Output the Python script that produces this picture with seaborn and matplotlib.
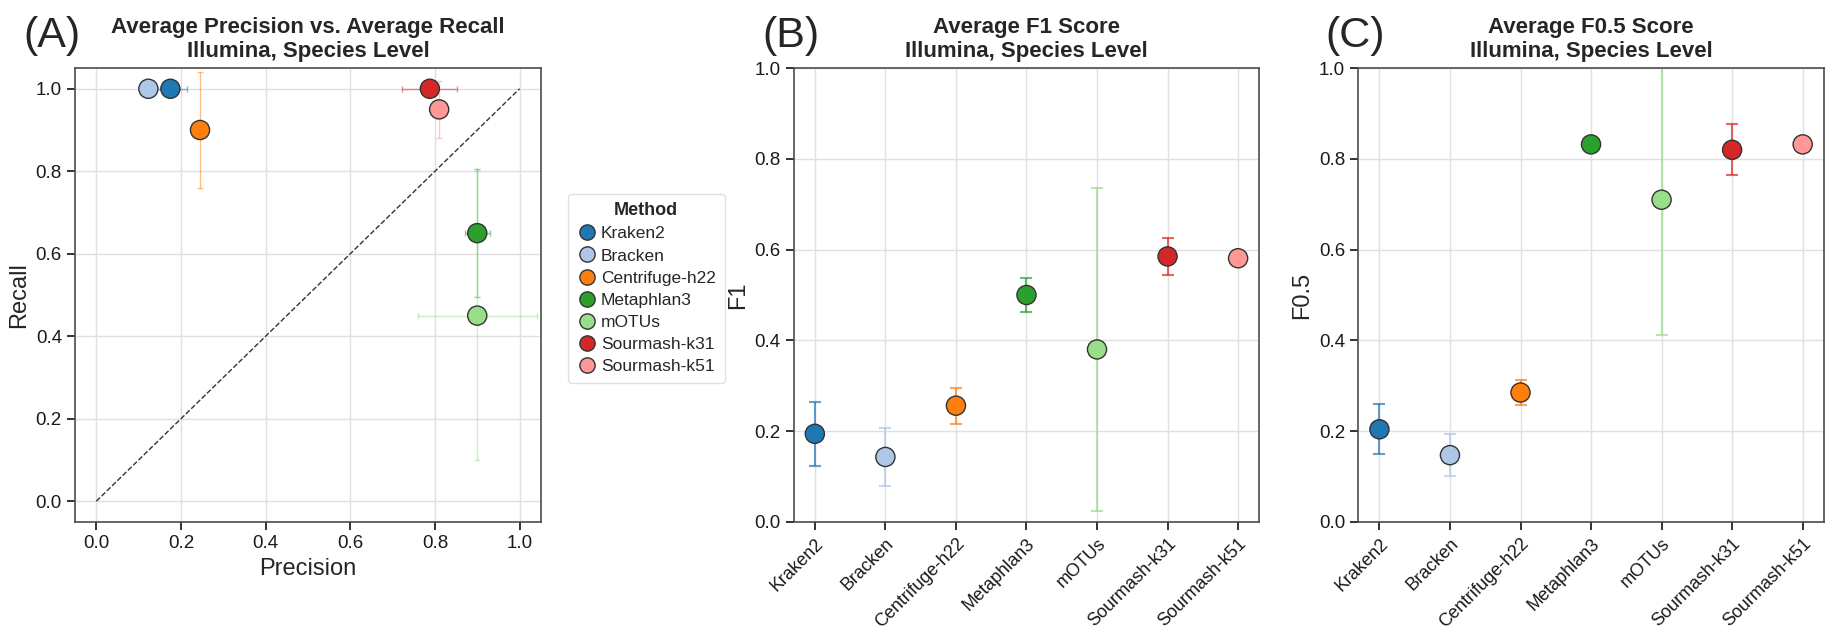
import numpy as np
import pandas as pd
import matplotlib
matplotlib.use("Agg")
import matplotlib.pyplot as plt
from matplotlib.lines import Line2D
import seaborn as sns

# values
methods = ["Kraken2", "Bracken", "Centrifuge-h22", "Metaphlan3", "mOTUs",
           "Sourmash-k31", "Sourmash-k51"]
precision = [0.175, 0.123, 0.245, 0.90, 0.90, 0.788, 0.81]
precision_err = [0.04, 0.02, 0.01, 0.03, 0.14, 0.065, 0.01]
recall = [1.0, 1.0, 0.90, 0.65, 0.45, 1.0, 0.95]
recall_err = [0.0, 0.0, 0.14, 0.155, 0.35, 0.0, 0.07]
f1 = [0.194, 0.143, 0.256, 0.50, 0.38, 0.585, 0.581]
f1_err = [0.07, 0.063, 0.04, 0.037, 0.356, 0.041, 0.01]
f05 = [0.204, 0.147, 0.285, 0.832, 0.71, 0.82, 0.832]
f05_err = [0.055, 0.047, 0.027, 0.01, 0.298, 0.056, 0.01]

df = pd.DataFrame({"Method": methods, "Precision": precision, "Recall": recall,
                   "F1": f1, "F0.5": f05})

tab20 = sns.color_palette("tab20")
colors = [tab20[i] for i in [0, 1, 2, 4, 5, 6, 7]]
pal = dict(zip(methods, colors))

sns.set_theme(style="whitegrid", rc={
    "axes.edgecolor": "0.3",
    "axes.linewidth": 1.2,
    "grid.color": "0.88",
    "xtick.bottom": True,
    "ytick.left": True,
    "xtick.color": "0.1",
    "ytick.color": "0.1",
})
plt.rcParams["font.family"] = ["Liberation Sans", "DejaVu Sans"]

fig = plt.figure(figsize=(18.33, 6.31), dpi=100)
ax1 = fig.add_axes([0.041, 0.173, 0.254, 0.719])
ax2 = fig.add_axes([0.433, 0.173, 0.254, 0.719])
ax3 = fig.add_axes([0.741, 0.173, 0.254, 0.719])

# (A) precision vs recall
for i, m in enumerate(methods):
    ax1.errorbar(precision[i], recall[i], xerr=precision_err[i], yerr=recall_err[i],
                 fmt="none", ecolor=colors[i], elinewidth=1, capsize=2, alpha=0.5)
ax1.plot([0, 1], [0, 1], ls="--", color="0.2", lw=1)
sns.scatterplot(data=df, x="Precision", y="Recall", hue="Method", palette=pal,
                s=190, edgecolor="0.2", linewidth=1, ax=ax1, zorder=3, legend=False)
ax1.set_xlim(-0.05, 1.05)
ax1.set_ylim(-0.05, 1.05)
ax1.set_xticks(np.arange(0, 1.01, 0.2))
ax1.set_yticks(np.arange(0, 1.01, 0.2))
ax1.set_xlabel("Precision", fontsize=17)
ax1.set_ylabel("Recall", fontsize=17)
ax1.tick_params(labelsize=13.5)
ax1.set_title("Average Precision vs. Average Recall\nIllumina, Species Level",
              fontsize=16, fontweight="bold", pad=8)

handles = [Line2D([], [], marker="o", ls="", markersize=11, markerfacecolor=c,
                  markeredgecolor="0.2", markeredgewidth=1) for c in colors]
leg = ax1.legend(handles, methods, title="Method", loc="center left",
                 bbox_to_anchor=(1.04, 0.515), fontsize=12.5, title_fontsize=13,
                 handletextpad=0.2, borderpad=0.5, labelspacing=0.4,
                 handlelength=1.2, frameon=True)
leg.get_title().set_fontweight("bold")
leg.get_frame().set_edgecolor("0.85")

# (B) and (C) per-method scores
for ax, col, vals, errs, title in [
        (ax2, "F1", f1, f1_err, "Average F1 Score\nIllumina, Species Level"),
        (ax3, "F0.5", f05, f05_err, "Average F0.5 Score\nIllumina, Species Level")]:
    for i, m in enumerate(methods):
        ax.errorbar(i, vals[i], yerr=errs[i], fmt="none", ecolor=colors[i],
                    elinewidth=1.5, capsize=4, capthick=1.5, alpha=0.7)
    sns.scatterplot(data=df, x="Method", y=col, hue="Method", palette=pal,
                    s=190, edgecolor="0.2", linewidth=1, ax=ax, zorder=3, legend=False)
    ax.set_xlim(-0.3, 6.3)
    ax.set_ylim(0, 1)
    ax.set_xticks(range(len(methods)))
    ax.set_xticklabels(methods, rotation=45, ha="right", rotation_mode="anchor")
    ax.set_yticks(np.arange(0, 1.01, 0.2))
    ax.tick_params(axis="y", labelsize=13.5)
    ax.tick_params(axis="x", labelsize=13)
    ax.set_xlabel("")
    ax.set_ylabel(col, fontsize=17)
    ax.set_title(title, fontsize=16, fontweight="bold", pad=8)

fig.text(0.013, 0.975, "(A)", fontsize=31, va="top")
fig.text(0.416, 0.975, "(B)", fontsize=31, va="top")
fig.text(0.723, 0.975, "(C)", fontsize=31, va="top")

fig.savefig("out.png", dpi=100)
